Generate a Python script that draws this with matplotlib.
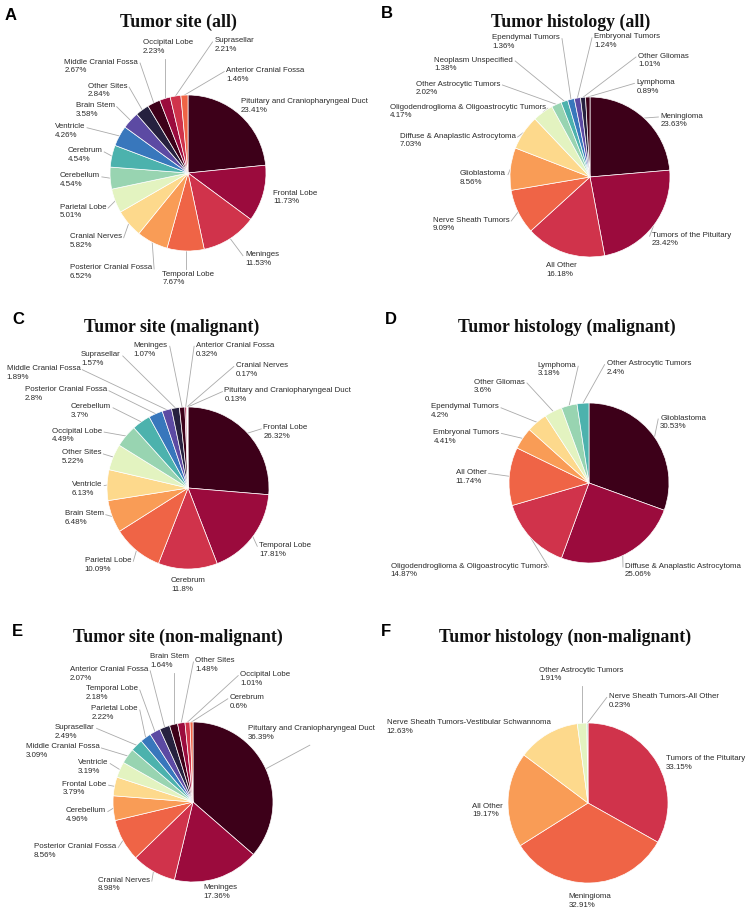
import numpy as np
import matplotlib.pyplot as plt

W, H = 747, 917

# ---- data ----
site_all_labels = ["Pituitary and Craniopharyngeal Duct", "Frontal Lobe", "Meninges", "Temporal Lobe",
                   "Posterior Cranial Fossa", "Cranial Nerves", "Parietal Lobe", "Cerebellum", "Cerebrum",
                   "Ventricle", "Brain Stem", "Other Sites", "Middle Cranial Fossa", "Occipital Lobe",
                   "Suprasellar", "Anterior Cranial Fossa"]
site_all_values = [23.41, 11.73, 11.53, 7.67, 6.52, 5.82, 5.01, 4.54, 4.54, 4.26, 3.58, 2.84, 2.67, 2.23, 2.21, 1.46]

hist_all_labels = ["Meningioma", "Tumors of the Pituitary", "All Other", "Nerve Sheath Tumors", "Glioblastoma",
                   "Diffuse & Anaplastic Astrocytoma", "Oligodendroglioma & Oligoastrocytic Tumors",
                   "Other Astrocytic Tumors", "Neoplasm Unspecified", "Ependymal Tumors", "Embryonal Tumors",
                   "Other Gliomas", "Lymphoma"]
hist_all_values = [23.63, 23.42, 16.18, 9.09, 8.56, 7.03, 4.17, 2.02, 1.38, 1.36, 1.24, 1.01, 0.89]

site_mal_labels = ["Frontal Lobe", "Temporal Lobe", "Cerebrum", "Parietal Lobe", "Brain Stem", "Ventricle",
                   "Other Sites", "Occipital Lobe", "Cerebellum", "Posterior Cranial Fossa", "Middle Cranial Fossa",
                   "Suprasellar", "Meninges", "Anterior Cranial Fossa", "Cranial Nerves",
                   "Pituitary and Craniopharyngeal Duct"]
site_mal_values = [26.32, 17.81, 11.8, 10.09, 6.48, 6.13, 5.22, 4.49, 3.7, 2.8, 1.89, 1.57, 1.07, 0.32, 0.17, 0.13]

hist_mal_labels = ["Glioblastoma", "Diffuse & Anaplastic Astrocytoma", "Oligodendroglioma & Oligoastrocytic Tumors",
                   "All Other", "Embryonal Tumors", "Ependymal Tumors", "Other Gliomas", "Lymphoma",
                   "Other Astrocytic Tumors"]
hist_mal_values = [30.53, 25.06, 14.87, 11.74, 4.41, 4.2, 3.6, 3.18, 2.4]

site_nm_labels = ["Pituitary and Craniopharyngeal Duct", "Meninges", "Cranial Nerves", "Posterior Cranial Fossa",
                  "Cerebellum", "Frontal Lobe", "Ventricle", "Middle Cranial Fossa", "Suprasellar", "Parietal Lobe",
                  "Temporal Lobe", "Anterior Cranial Fossa", "Brain Stem", "Other Sites", "Occipital Lobe",
                  "Cerebrum"]
site_nm_values = [36.39, 17.36, 8.98, 8.56, 4.96, 3.79, 3.19, 3.09, 2.49, 2.22, 2.18, 2.07, 1.64, 1.48, 1.01, 0.6]

hist_nm_labels = ["Tumors of the Pituitary", "Meningioma", "All Other",
                  "Nerve Sheath Tumors-Vestibular Schwannoma", "Other Astrocytic Tumors",
                  "Nerve Sheath Tumors-All Other"]
hist_nm_values = [33.15, 32.91, 19.17, 12.63, 1.91, 0.23]

palette = ["#3d0019", "#9b0b3d", "#d0334b", "#ef6446", "#f99c56", "#fdd98c",
           "#e3f3c0", "#98d4b1", "#4cb2ad", "#3877bc", "#5c4aa3", "#26213f"]

# label layout: (x, y of first line, alignment side, leader line kind) in pie-radius units
pos_a = [(0.68, 0.90, 'l', '-'), (1.09, -0.27, 'l', '-'), (0.73, -1.06, 'l', 's'), (-0.33, -1.31, 'l', 'd'),
         (-0.46, -1.23, 'r', 's'), (-0.85, -0.83, 'r', 's'), (-1.05, -0.45, 'r', 's'), (-1.13, -0.05, 'r', 's'),
         (-1.10, 0.27, 'r', 's'), (-1.32, 0.58, 'r', 's'), (-0.94, 0.85, 'r', 's'), (-0.78, 1.10, 'r', 's'),
         (-0.64, 1.41, 'r', 's'), (-0.58, 1.66, 'l', 'u'), (0.34, 1.68, 'l', 's'), (0.49, 1.30, 'l', 's')]
pos_b = [(0.88, 0.75, 'l', 's'), (0.77, -0.74, 'l', 's'), (-0.55, -1.12, 'l', '-'), (-1.01, -0.55, 'r', 's'),
         (-1.05, 0.03, 'r', 's'), (-0.93, 0.50, 'r', 's'), (-0.55, 0.86, 'r', 's'), (-1.12, 1.15, 'r', 's'),
         (-0.96, 1.45, 'r', 's'), (-0.375, 1.73, 'r', 's'), (0.05, 1.74, 'l', 's'), (0.60, 1.50, 'l', 's'),
         (0.58, 1.17, 'l', 's')]
pos_c = [(0.93, 0.73, 'l', 's'), (0.88, -0.72, 'l', 's'), (-0.21, -1.16, 'l', '-'), (-0.70, -0.905, 'r', 's'),
         (-1.04, -0.33, 'r', 's'), (-1.06, 0.03, 'r', 's'), (-1.07, 0.42, 'r', 's'), (-1.06, 0.69, 'r', 's'),
         (-0.95, 0.99, 'r', 's'), (-1.00, 1.20, 'r', 's'), (-1.33, 1.46, 'r', 's'), (-0.83, 1.63, 'r', 's'),
         (-0.25, 1.75, 'r', 's'), (0.10, 1.75, 'l', 's'), (0.59, 1.50, 'l', 's'), (0.45, 1.19, 'l', 's')]
pos_d = [(0.89, 0.80, 'l', 's'), (0.45, -1.05, 'l', 's'), (-0.53, -1.05, 'r', 's'), (-1.28, 0.12, 'r', 's'),
         (-1.12, 0.62, 'r', 's'), (-1.125, 0.94, 'r', 's'), (-0.80, 1.25, 'r', 's'), (-0.16, 1.46, 'r', 's'),
         (0.22, 1.48, 'l', 's')]
pos_e = [(0.69, 0.90, 'l', 'e'), (0.13, -1.08, 'l', '-'), (-0.54, -0.99, 'r', 's'), (-0.96, -0.57, 'r', 's'),
         (-1.09, -0.12, 'r', 's'), (-1.08, 0.21, 'r', 's'), (-1.06, 0.48, 'r', 's'), (-1.17, 0.675, 'r', 's'),
         (-1.23, 0.92, 'r', 's'), (-0.69, 1.15, 'r', 's'), (-0.69, 1.40, 'r', 's'), (-0.56, 1.64, 'r', 's'),
         (-0.05, 1.80, 'r', 'u'), (0.03, 1.75, 'l', 's'), (0.59, 1.58, 'l', 's'), (0.46, 1.29, 'l', 's')]
pos_f = [(0.97, 0.54, 'l', '-'), (-0.24, -1.18, 'l', '-'), (-1.06, -0.05, 'r', '-'), (-0.47, 0.99, 'r', '-'),
         (-0.61, 1.65, 'l', 'u'), (0.26, 1.32, 'l', 's')]
e_line_end = (1.46, 0.71)

panels = [
    ("A", "Tumor site (all)", site_all_labels, site_all_values, pos_a, (188, 173), 78, (178, 22), (5, 15), (0, 0, 373, 300), 0),
    ("B", "Tumor histology (all)", hist_all_labels, hist_all_values, pos_b, (590, 177), 80, (571, 22), (381, 14), (373, 0, 747, 300), 0),
    ("C", "Tumor site (malignant)", site_mal_labels, site_mal_values, pos_c, (188, 488), 81, (172, 327), (12, 319), (0, 300, 373, 610), 0),
    ("D", "Tumor histology (malignant)", hist_mal_labels, hist_mal_values, pos_d, (589, 483), 80, (567, 327), (385, 319), (373, 300, 747, 610), 0),
    ("E", "Tumor site (non-malignant)", site_nm_labels, site_nm_values, pos_e, (193, 802), 80, (178, 637), (12, 632), (0, 610, 373, 917), 0),
    ("F", "Tumor histology (non-malignant)", hist_nm_labels, hist_nm_values, pos_f, (588, 803), 80, (565, 637), (381, 631), (373, 610, 747, 917), 2),
]

fig = plt.figure(figsize=(W / 100, H / 100), dpi=100)
fig.patch.set_facecolor("white")

for letter, title, labels, values, layout, (cx, cy), R, (tx0, ty0), (lx0, ly0), (x0, y0, x1, y1), c0 in panels:
    ax = fig.add_axes([x0 / W, 1 - y1 / H, (x1 - x0) / W, (y1 - y0) / H])
    cols = [palette[(c0 + i) % len(palette)] for i in range(len(values))]
    ax.pie(values, colors=cols, startangle=90, counterclock=False, radius=1,
           wedgeprops=dict(edgecolor="white", linewidth=0.5))
    ax.set_aspect("auto")
    ax.set_xlim((x0 - cx) / R, (x1 - cx) / R)
    ax.set_ylim((cy - y1) / R, (cy - y0) / R)
    ax.axis("off")

    px = 1.0 / R
    total = float(np.sum(values))
    mids = (np.cumsum(values) - np.array(values) / 2) / total * 2 * np.pi
    for name, v, th, (tx, ty, side, kind) in zip(labels, values, mids, layout):
        ex, ey = np.sin(th), np.cos(th)
        ax.text(tx, ty + 4.5 * px, f"{name}\n{v:g}%", ha="left" if side == "l" else "right", va="top",
                multialignment="left", fontsize=5.7, family="Liberation Sans", color="#2b2b2b",
                linespacing=1.35, clip_on=False)
        if kind == "-":
            continue
        if kind == "s":
            ex2 = tx - 2 * px if side == "l" else tx + 2 * px
            ey2 = ty
        elif kind == "u":
            ex2, ey2 = ex, ty - 15 * px
        elif kind == "d":
            ex2, ey2 = ex, ty + 6 * px
        else:
            ex2, ey2 = e_line_end
        ax.plot([ex, ex2], [ey, ey2], color="#aaaaaa", lw=0.6, clip_on=False, zorder=0)

    fig.text(tx0 / W, 1 - ty0 / H, title, ha="center", va="center", fontsize=12.8,
             family="Liberation Serif", fontweight="bold", color="#111111")
    fig.text(lx0 / W, 1 - ly0 / H, letter, ha="left", va="center", fontsize=12,
             family="Liberation Sans", fontweight="bold", color="black")

fig.savefig("out.png", dpi=100, facecolor="white")
